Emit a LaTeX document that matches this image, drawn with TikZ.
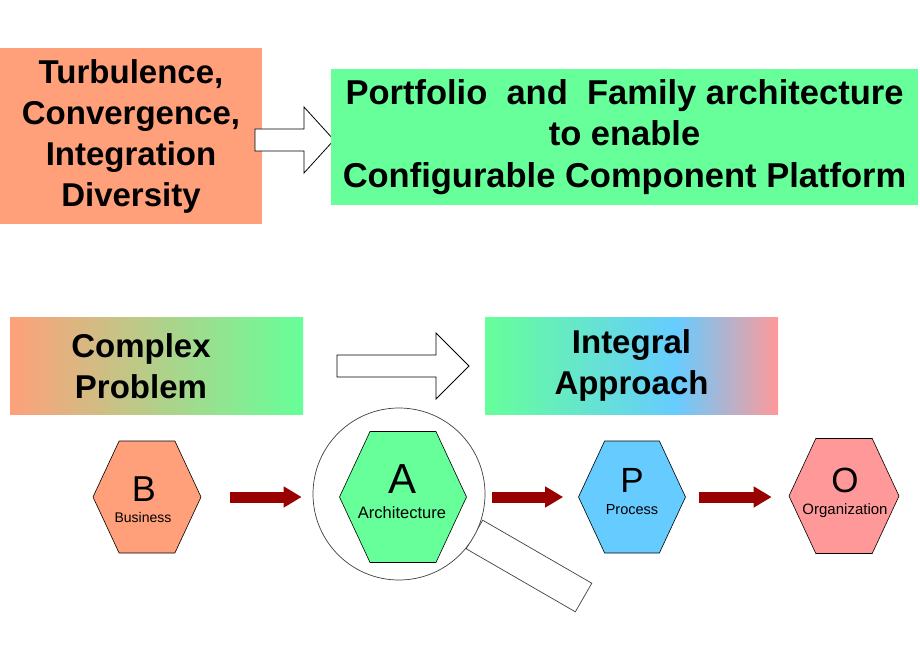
\documentclass[tikz,border=0pt]{standalone}
\usepackage{fontspec}
\setmainfont{Liberation Sans}
\usetikzlibrary{arrows.meta,calc,positioning,shapes.symbols}
\definecolor{ink}{HTML}{000000}
\definecolor{salmon}{HTML}{FFA07A}
\definecolor{mint}{HTML}{66FF99}
\definecolor{sky}{HTML}{66CCFF}
\definecolor{rose}{HTML}{FF9999}
\definecolor{maroon}{HTML}{990000}
\definecolor{rim}{HTML}{404040}
\pgfdeclarehorizontalshading{integral}{100bp}{color(0bp)=(mint); color(25bp)=(mint);
  color(57.5bp)=(sky); color(75bp)=(rose); color(100bp)=(rose)}

\begin{document}
\begin{tikzpicture}[
  x=1pt,
  y=-1pt,
  >={Triangle[length=18pt,width=20pt]},
  heading/.style={font=\bfseries\fontsize{33}{41}\selectfont, text=ink, align=center},
  slab/.style={minimum width=293, minimum height=97, inner sep=0pt},
  hollow/.style={draw=ink, fill=white, line width=.8pt, line join=miter},
  push/.style={->, draw=maroon, line width=11pt},
  hexa/.style={shape=signal, signal to=east and west, signal pointer angle=130,
               draw=ink, line width=.6pt, minimum width=108, minimum height=112,
               inner sep=0pt},
  letter/.style={font=\fontsize{36}{36}\selectfont, text=ink, anchor=base},
  word/.style={font=\fontsize{14.5}{15}\selectfont, text=ink, anchor=base},
]
\useasboundingbox (0,0) rectangle (920,660);

% Top row: drivers lead to the platform goal.
\node[heading, fill=salmon, minimum width=262, minimum height=176, inner sep=0pt]
  (trouble) at (131,136) {Turbulence,\\Convergence,\\Integration\\Diversity};
\coordinate (tail1) at (255,140);
\coordinate (tip1) at (334,140);
\draw[hollow] (tail1) ++(0,-11) -| ($(tip1)+(-30,-33)$) -- (tip1) -- ++(-30,33)
  |- ($(tail1)+(0,11)$) -- cycle;
\node[heading, font=\bfseries\fontsize{34.5}{41.5}\selectfont, fill=mint,
      minimum width=587, minimum height=136, inner sep=0pt]
  (goal) at (624.5,137) {Portfolio\ \ and\ \ Family architecture\\to enable\\Configurable Component Platform};

% Middle row: shaded banners.
\node[slab, left color=salmon, right color=mint] (complex) at (156.5,365.5) {};
\node[heading] (complextext) at (141,366) {Complex\\Problem};
\coordinate (tail2) at (337,366);
\coordinate (tip2) at (469,366);
\draw[hollow] (tail2) ++(0,-11) -| ($(tip2)+(-33,-33)$) -- (tip2) -- ++(-33,33)
  |- ($(tail2)+(0,11)$) -- cycle;
\node[slab, heading, shading=integral, shade] (integral) at (631.5,365.5) {Integral\\Approach};

% Bottom row: BAPO chain, architecture under the lens.
\node[hollow, draw=rim, line width=.7pt, minimum width=126, minimum height=33,
      inner sep=0pt, rotate=-30] (handle) at (529,566) {};
\node[circle, draw=rim, fill=white, line width=.7pt, minimum size=172, inner sep=0pt]
  (glass) at (399,494) {};

\node[hexa, fill=salmon] (B) at (147,497) {};
\node[hexa, fill=mint, minimum width=127, minimum height=131] (A) at (403,497) {};
\node[hexa, fill=sky, minimum width=107] (P) at (632,497) {};
\node[hexa, fill=rose, minimum width=110, minimum height=115] (O) at (844,496) {};

\node[letter] (Bkey) at (144,501) {B};
\node[word, font=\fontsize{14}{15}\selectfont] (Bname) at (143,522) {Business};
\node[letter, font=\fontsize{42}{42}\selectfont] (Akey) at (403,493) {A};
\node[word, font=\fontsize{16.5}{17}\selectfont] (Aname) at (402,518) {Architecture};
\node[letter, font=\fontsize{35}{35}\selectfont] (Pkey) at (632,492) {P};
\node[word] (Pname) at (632,514) {Process};
\node[letter, font=\fontsize{35}{35}\selectfont] (Okey) at (845,492) {O};
\node[word, font=\fontsize{15}{15}\selectfont] (Oname) at (845,514) {Organization};

\draw[push, shorten <=29pt, shorten >=11pt] (B.east) -- (B.east -| glass.west);
\draw[push, shorten <=7pt, shorten >=15pt] (glass.east |- P.west) -- (P.west);
\draw[push, shorten <=13pt, shorten >=17pt] (P.east) -- (P.east -| O.west);

\end{tikzpicture}
\end{document}
